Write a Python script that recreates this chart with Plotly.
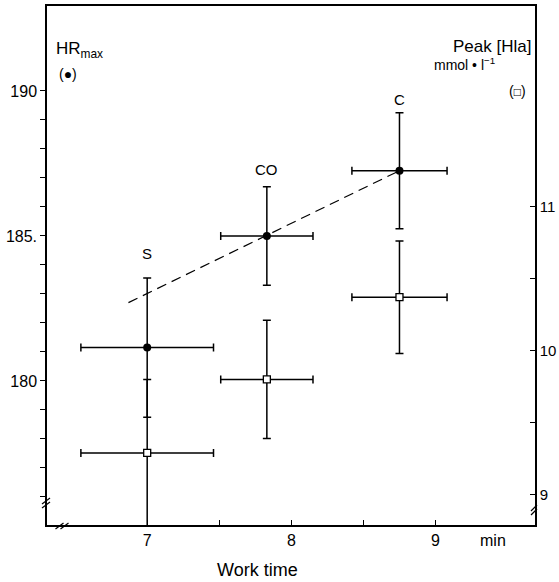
import plotly.graph_objects as go

# ---- data ----
groups = ["S", "CO", "C"]
work_time = [7.0, 7.83, 8.75]          # min
work_time_err = [0.46, 0.32, 0.33]     # min (horizontal bars)
hr_max = [181.15, 185.0, 187.25]       # beats/min
hr_max_err = [2.4, 1.7, 2.0]
peak_hla = [9.29, 9.80, 10.37]         # mmol/l
peak_hla_err = [0.51, 0.41, 0.39]
group_label_y = [184.4, 187.3, 189.7]  # on HRmax scale
trend_x = [6.87, 8.75]
trend_y = [182.7, 187.25]

x_ticks = [7, 7.5, 8, 8.5, 9]
x_ticktext = ["7", "", "8", "", "9"]
hr_ticks = list(range(176, 191))
hr_ticktext = ["185." if v == 185 else (str(v) if v in (180, 190) else "") for v in hr_ticks]
hla_ticks = [9, 9.5, 10, 10.5, 11]
hla_ticktext = ["9", "", "10", "", "11"]

FONT = "Liberation Sans, Arial, sans-serif"
L, R, T, B = 47, 24, 6, 57
W, H = 559, 582
PW, PH = W - L - R, H - T - B


def px(x):
    return (x - L) / PW


def py(y):
    return (H - B - y) / PH


fig = go.Figure()

fig.add_trace(go.Scatter(
    x=trend_x, y=trend_y, mode="lines",
    line=dict(color="black", width=1.2, dash="10px,6px"),
    showlegend=False, hoverinfo="skip"))

fig.add_trace(go.Scatter(
    x=work_time, y=peak_hla, yaxis="y2", mode="markers",
    marker=dict(symbol="square", size=7, color="white",
                line=dict(color="black", width=1.3)),
    error_y=dict(type="data", array=peak_hla_err, visible=True,
                 color="black", thickness=1.5, width=4),
    error_x=dict(type="data", array=work_time_err, visible=True,
                 color="black", thickness=1.5, width=4),
    showlegend=False, name="Peak [Hla]"))

fig.add_trace(go.Scatter(
    x=work_time, y=hr_max, mode="markers",
    marker=dict(symbol="circle", size=8, color="black"),
    error_y=dict(type="data", array=hr_max_err, visible=True,
                 color="black", thickness=1.5, width=4),
    error_x=dict(type="data", array=work_time_err, visible=True,
                 color="black", thickness=1.5, width=4),
    showlegend=False, name="HRmax"))

annotations = []
for g, xv, yv in zip(groups, work_time, group_label_y):
    annotations.append(dict(x=xv, y=yv, xref="x", yref="y", text=g,
                            showarrow=False, font=dict(size=15, family=FONT, color="black")))

annotations += [
    dict(x=px(54), y=py(50), xref="paper", yref="paper", xanchor="left", yanchor="middle",
         text="HR<sub>max</sub>", showarrow=False, font=dict(size=17, family=FONT, color="black")),
    dict(x=px(68), y=py(74), xref="paper", yref="paper", xanchor="center", yanchor="middle",
         text="(●)", showarrow=False, font=dict(size=14, family=FONT, color="black")),
    dict(x=px(533), y=py(46), xref="paper", yref="paper", xanchor="right", yanchor="middle",
         text="Peak [Hla]", showarrow=False, font=dict(size=17, family=FONT, color="black")),
    dict(x=px(432), y=py(64), xref="paper", yref="paper", xanchor="left", yanchor="middle",
         text="mmol • l<sup>−1</sup>", showarrow=False, font=dict(size=14, family=FONT, color="black")),
    dict(x=px(528), y=py(91), xref="paper", yref="paper", xanchor="right", yanchor="middle",
         text="(<span style='font-size:12px'>□</span>)", showarrow=False,
         font=dict(size=14, family=FONT, color="black")),
    dict(x=px(493), y=py(540), xref="paper", yref="paper", xanchor="center", yanchor="middle",
         text="min", showarrow=False, font=dict(size=16, family=FONT, color="black")),
    dict(x=px(257), y=py(570), xref="paper", yref="paper", xanchor="center", yanchor="middle",
         text="Work time", showarrow=False, font=dict(size=18, family=FONT, color="black")),
]

# axis break marks
shapes = []
def brk(cx, cy, dx=4, dy=5, sep=4, horizontal=False):
    out = []
    for k in (-sep / 2, sep / 2):
        if horizontal:
            x0, y0, x1, y1 = cx + k - dx, cy + dy, cx + k + dx, cy - dy
        else:
            x0, y0, x1, y1 = cx - dx, cy + k + dy / 2, cx + dx, cy + k - dy / 2
        out.append(dict(type="line", xref="paper", yref="paper",
                        x0=px(x0), y0=py(y0), x1=px(x1), y1=py(y1),
                        line=dict(color="black", width=1.2)))
    return out

shapes += brk(46, 503, dx=4, dy=6, sep=4)
shapes += brk(62, 526, dx=4, dy=3, sep=5, horizontal=True)
shapes += brk(534, 510, dx=3, dy=6, sep=4)

fig.update_layout(
    width=W, height=H,
    margin=dict(l=L, r=R, t=T, b=B, autoexpand=False),
    paper_bgcolor="white", plot_bgcolor="white",
    font=dict(family=FONT, color="black", size=16),
    xaxis=dict(range=[6.305, 9.69], tickvals=x_ticks, ticktext=x_ticktext,
               ticks="inside", ticklen=5, tickwidth=1.2, tickcolor="black",
               showline=True, linecolor="black", linewidth=1.5, mirror=True,
               showgrid=False, zeroline=False, tickfont=dict(size=16)),
    yaxis=dict(range=[175.03, 192.93], tickvals=hr_ticks, ticktext=hr_ticktext,
               ticks="outside", ticklen=5, tickwidth=1.2, tickcolor="black",
               showline=True, linecolor="black", linewidth=1.5,
               showgrid=False, zeroline=False, tickfont=dict(size=16)),
    yaxis2=dict(range=[8.79, 12.39], overlaying="y", side="right",
                tickvals=hla_ticks, ticktext=hla_ticktext,
                ticks="inside", ticklen=5, tickwidth=1.2, tickcolor="black",
                showline=True, linecolor="black", linewidth=1.5,
                showgrid=False, zeroline=False, tickfont=dict(size=15)),
    annotations=annotations,
    shapes=shapes,
)

fig.write_html("out.html",
               config={"displayModeBar": False},
               post_script="document.body.style.margin='0';document.body.style.overflow='hidden';")
